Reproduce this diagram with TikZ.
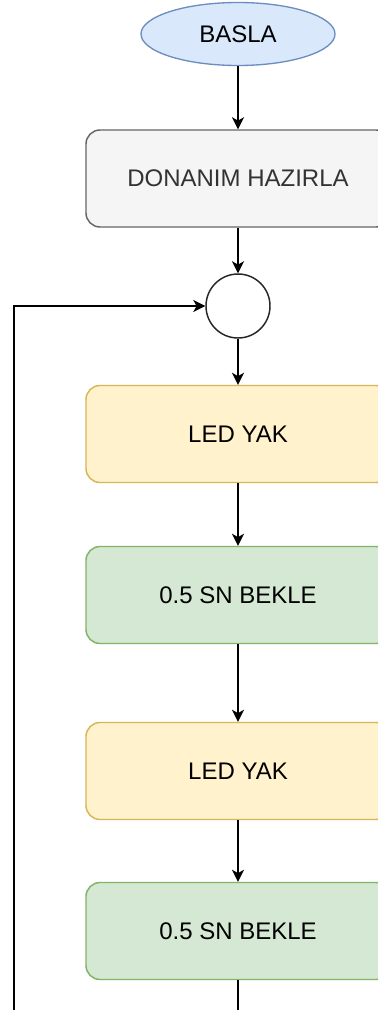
\documentclass[tikz,border=0pt]{standalone}
\usepackage{fontspec}
\setmainfont{Liberation Sans}
\usepackage{xcolor}
\usetikzlibrary{shapes,arrows.meta,positioning}

\definecolor{startfill}{HTML}{DAE8FC}
\definecolor{startdraw}{HTML}{6C8EBF}
\definecolor{grayfill}{HTML}{F5F5F5}
\definecolor{graydraw}{HTML}{666666}
\definecolor{graytext}{HTML}{333333}
\definecolor{ledfill}{HTML}{FFF2CC}
\definecolor{leddraw}{HTML}{D6B656}
\definecolor{waitfill}{HTML}{D5E8D4}
\definecolor{waitdraw}{HTML}{82B366}

\begin{document}
\begin{tikzpicture}[x=0.75pt, y=-0.75pt,
    every node/.style={font=\fontsize{18}{22}\selectfont},
    start/.style={ellipse, draw=startdraw, fill=startfill, line width=1pt,
        minimum width=145.5pt, minimum height=47.25pt, inner sep=0pt},
    box/.style={rectangle, rounded corners=10.5pt, line width=1.1pt,
        minimum width=228pt, minimum height=72.75pt},
    ledbox/.style={box, draw=leddraw, fill=ledfill},
    waitbox/.style={box, draw=waitdraw, fill=waitfill},
    merge/.style={circle, draw=black!85, fill=white, line width=1.1pt,
        minimum size=48pt, inner sep=0pt},
    line/.style={line width=1.2pt, draw=black},
    flow/.style={line, -{Stealth[length=9pt, width=9pt, inset=2.5pt]}}]
    \fill [white] (0,0) rectangle (378,1010);
    \useasboundingbox (0,0) rectangle (378,1010);
    \clip (0,0) rectangle (378,1010);

    % Blocks
    \node [start] (basla) at (238,34) {BASLA};
    \node [box, draw=graydraw, fill=grayfill, text=graytext] (donanim) at (238,178.5) {DONANIM HAZIRLA};
    \node [merge] (join) at (238,306) {};
    \node [ledbox] (led1) at (238,434) {LED YAK};
    \node [waitbox] (wait1) at (238,595) {0.5 SN BEKLE};
    \node [ledbox] (led2) at (238,771) {LED YAK};
    \node [waitbox] (wait2) at (238,931) {0.5 SN BEKLE};

    % Flow
    \draw [flow] (basla) -- (donanim);
    \draw [flow] (donanim) -- (join);
    \draw [flow] (join) -- (led1);
    \draw [flow] (led1) -- (wait1);
    \draw [flow] (wait1) -- (led2);
    \draw [flow] (led2) -- (wait2);

    % Loop back to the join
    \coordinate (down) at (238,1012);
    \coordinate (back) at (14,1012);
    \draw [line] (wait2) -- (down);
    \draw [flow] (back) |- (join);
\end{tikzpicture}
\end{document}
